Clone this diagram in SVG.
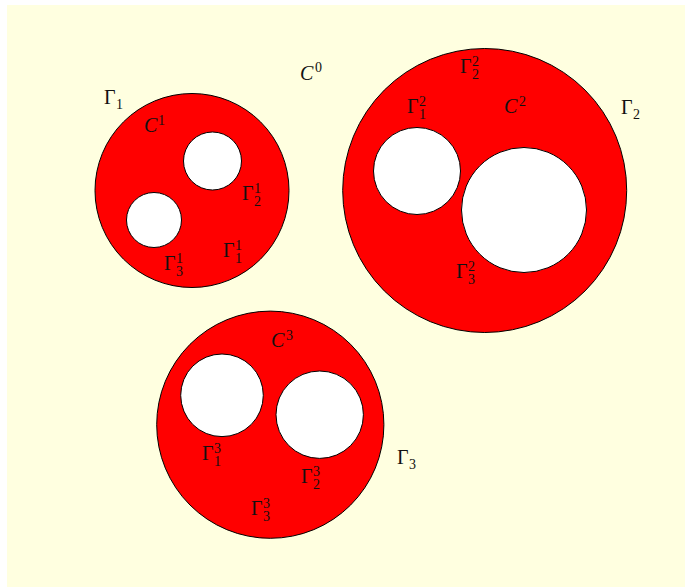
<svg xmlns="http://www.w3.org/2000/svg" width="685" height="587" viewBox="0 0 685 587">
<style>
.region{fill:#ff0000;stroke:#000;stroke-width:1}
.hole{fill:#ffffff;stroke:#000;stroke-width:1}
.g{font-family:"Liberation Serif","DejaVu Serif",serif;font-size:20px;fill:#111}
.c{font-family:"Liberation Serif","DejaVu Serif",serif;font-style:italic;font-size:20px;fill:#111}
.s{font-family:"Liberation Serif","DejaVu Serif",serif;font-size:14px;fill:#111}
</style>
<rect x="7" y="5" width="678" height="582" fill="#ffffe0"/>
<g id="domain1">
<circle class="region" cx="192" cy="190.5" r="97"/>
<circle class="hole" cx="212.5" cy="161" r="29"/>
<circle class="hole" cx="154" cy="220" r="27.5"/>
<text class="g" x="104" y="104">Γ</text><text class="s" x="116" y="109">1</text>
<text class="c" x="144" y="132">C</text><text class="s" x="158" y="125">1</text>
<text class="g" x="242" y="200">Γ</text><text class="s" x="254" y="193">1</text><text class="s" x="254" y="206">2</text>
<text class="g" x="223" y="257">Γ</text><text class="s" x="235" y="250">1</text><text class="s" x="235" y="263">1</text>
<text class="g" x="164" y="270">Γ</text><text class="s" x="176" y="263">1</text><text class="s" x="176" y="276">3</text>
</g>
<g id="outer">
<text class="c" x="300" y="79.5">C</text><text class="s" x="315" y="72">0</text>
</g>
<g id="domain2">
<circle class="region" cx="484.7" cy="190.5" r="142"/>
<circle class="hole" cx="417" cy="171" r="43.5"/>
<circle class="hole" cx="524" cy="210" r="62.5"/>
<text class="g" x="460" y="73">Γ</text><text class="s" x="472" y="66">2</text><text class="s" x="472" y="79">2</text>
<text class="g" x="407" y="113">Γ</text><text class="s" x="419" y="106">2</text><text class="s" x="419" y="119">1</text>
<text class="c" x="504" y="113">C</text><text class="s" x="519" y="106">2</text>
<text class="g" x="621" y="114">Γ</text><text class="s" x="633" y="119">2</text>
<text class="g" x="456" y="278">Γ</text><text class="s" x="468" y="271">2</text><text class="s" x="468" y="284">3</text>
</g>
<g id="domain3">
<circle class="region" cx="270.3" cy="424.7" r="113.6"/>
<circle class="hole" cx="222" cy="395.3" r="41.3"/>
<circle class="hole" cx="319.7" cy="414.7" r="43.7"/>
<text class="c" x="271" y="347">C</text><text class="s" x="286" y="340">3</text>
<text class="g" x="202" y="460">Γ</text><text class="s" x="214" y="453">3</text><text class="s" x="214" y="466">1</text>
<text class="g" x="301" y="483">Γ</text><text class="s" x="313" y="476">3</text><text class="s" x="313" y="489">2</text>
<text class="g" x="251" y="515">Γ</text><text class="s" x="263" y="508">3</text><text class="s" x="263" y="521">3</text>
<text class="g" x="397" y="464">Γ</text><text class="s" x="409" y="469">3</text>
</g>
</svg>
